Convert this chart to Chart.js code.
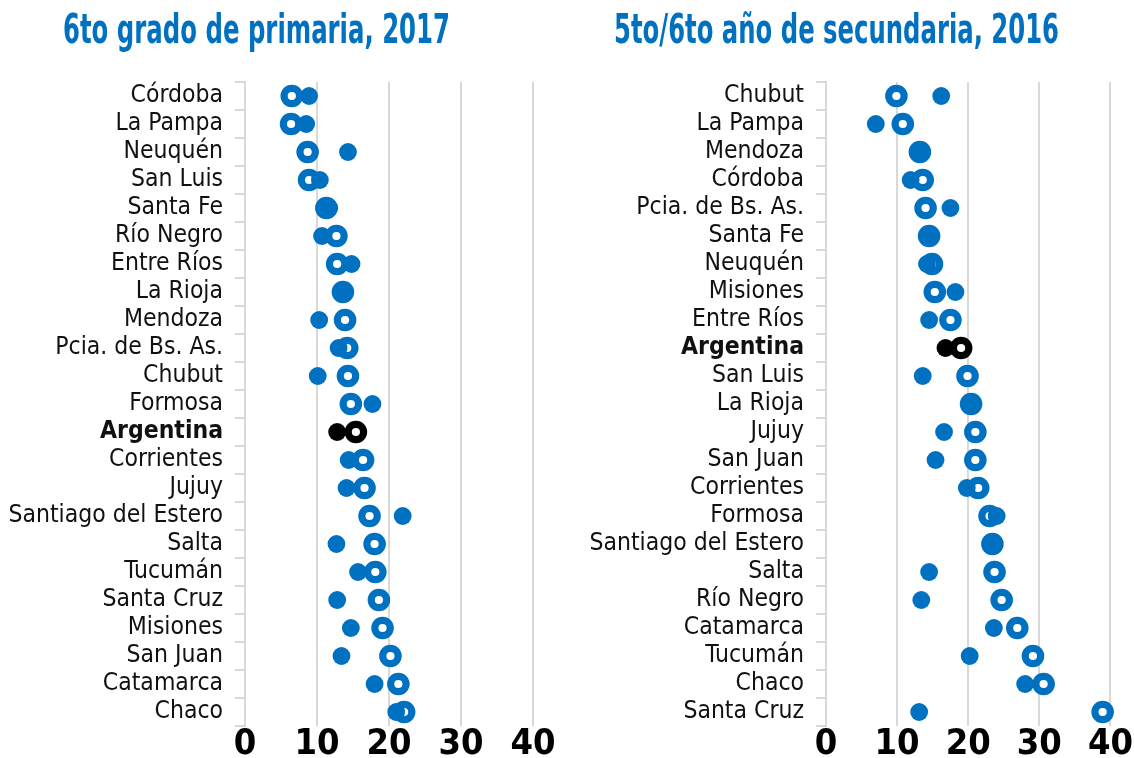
<!DOCTYPE html>
<html>
<head>
<meta charset="utf-8">
<script src="https://cdn.jsdelivr.net/npm/chart.js@4/dist/chart.umd.min.js"></script>
<style>
html,body{margin:0;padding:0;background:#fff;width:1134px;height:758px;overflow:hidden;}
.panel{position:absolute;top:0;width:567px;height:758px;}
#p1{left:0;} #p2{left:567px;}
.title{position:absolute;top:9px;white-space:nowrap;font-family:'Liberation Sans Narrow','DejaVu Sans Condensed',sans-serif;font-weight:bold;font-size:40px;line-height:40px;color:#0070C0;transform-origin:left top;}
</style>
</head>
<body>
<div class="panel" id="p1"><canvas id="c1"></canvas></div>
<div class="panel" id="p2"><canvas id="c2"></canvas></div>
<div class="title" id="t1">6to grado de primaria, 2017</div>
<div class="title" id="t2">5to/6to año de secundaria, 2016</div>
<script>
// ---- Data: 6to grado de primaria, 2017 ----
const primariaCategories = ['Córdoba','La Pampa','Neuquén','San Luis','Santa Fe','Río Negro','Entre Ríos','La Rioja','Mendoza','Pcia. de Bs. As.','Chubut','Formosa','Argentina','Corrientes','Jujuy','Santiago del Estero','Salta','Tucumán','Santa Cruz','Misiones','San Juan','Catamarca','Chaco'];
const primariaDots  = [8.9, 8.5, 14.3, 10.4, 11.7, 10.7, 14.8, 13.8, 10.3, 13.0, 10.1, 17.7, 12.8, 14.4, 14.1, 21.9, 12.7, 15.7, 12.8, 14.7, 13.4, 18.0, 21.0];
const primariaRings = [6.5, 6.4, 8.7, 8.9, 11.3, 12.7, 12.8, 13.6, 13.9, 14.2, 14.3, 14.7, 15.4, 16.4, 16.6, 17.3, 18.0, 18.1, 18.6, 19.1, 20.2, 21.3, 22.1];

// ---- Data: 5to/6to año de secundaria, 2016 ----
const secundariaCategories = ['Chubut','La Pampa','Mendoza','Córdoba','Pcia. de Bs. As.','Santa Fe','Neuquén','Misiones','Entre Ríos','Argentina','San Luis','La Rioja','Jujuy','San Juan','Corrientes','Formosa','Santiago del Estero','Salta','Río Negro','Catamarca','Tucumán','Chaco','Santa Cruz'];
const secundariaDots  = [16.2, 7.0, 13.2, 11.9, 17.5, 14.5, 14.2, 18.2, 14.5, 16.8, 13.6, 20.4, 16.6, 15.4, 19.8, 24.0, 23.4, 14.5, 13.4, 23.6, 20.2, 28.0, 13.1];
const secundariaRings = [9.9, 10.8, 13.2, 13.6, 14.0, 14.5, 14.9, 15.3, 17.5, 19.0, 19.9, 20.4, 21.0, 21.0, 21.4, 23.0, 23.4, 23.7, 24.7, 26.9, 29.1, 30.6, 38.9];

const xTicks = [0, 10, 20, 30, 40];

const BLUE = '#0070C0';
const GRID = '#d9d9d9';
const FONT = "'Liberation Sans Narrow','DejaVu Sans Condensed',sans-serif";

function makeChart(id, cats, dots, rings, yWidth, padRight) {
  const colors = cats.map(c => c === 'Argentina' ? '#000000' : BLUE);
  return new Chart(document.getElementById(id), {
    type: 'line',
    data: {
      labels: cats,
      datasets: [
        { label: 'A', data: dots, showLine: false, clip: false,
          pointRadius: 8.9, pointBorderWidth: 0,
          pointBackgroundColor: colors, pointBorderColor: colors },
        { label: 'B', data: rings, showLine: false, clip: false,
          pointRadius: 7.7, pointBorderWidth: 7.2,
          pointBackgroundColor: '#ffffff', pointBorderColor: colors }
      ]
    },
    options: {
      indexAxis: 'y',
      responsive: true,
      maintainAspectRatio: false,
      animation: false,
      events: [],
      layout: { padding: { top: 82, right: padRight, bottom: 0, left: 0 } },
      plugins: { legend: { display: false }, tooltip: { enabled: false }, title: { display: false } },
      scales: {
        x: {
          type: 'linear', min: 0, max: 40,
          afterBuildTicks: s => { s.ticks = xTicks.map(v => ({ value: v })); },
          ticks: { color: '#000', padding: 1, font: { family: FONT, size: 36, weight: 'bold', lineHeight: 1 } },
          grid: { color: GRID, lineWidth: 2, drawTicks: false },
          border: { display: false },
          afterFit: s => { s.height = 32; }
        },
        y: {
          type: 'category', offset: true,
          grid: { offset: true, drawOnChartArea: false, drawTicks: true, tickLength: 10, color: GRID, lineWidth: 2 },
          border: { display: true, color: GRID, width: 2 },
          ticks: {
            color: '#111', padding: 12, autoSkip: false,
            font: ctx => ({ family: FONT, size: 24.5, weight: (ctx.tick && ctx.tick.label === 'Argentina') ? 'bold' : 'normal' })
          },
          afterFit: s => { s.width = yWidth; }
        }
      }
    }
  });
}

makeChart('c1', primariaCategories, primariaDots, primariaRings, 245, 34);
makeChart('c2', secundariaCategories, secundariaDots, secundariaRings, 259, 20);

function placeTitle(id, left, right) {
  const el = document.getElementById(id);
  const w = el.getBoundingClientRect().width;
  const target = right - left;
  el.style.left = left + 'px';
  el.style.transform = 'scaleX(' + (target / w) + ')';
}
placeTitle('t1', 63, 450);
placeTitle('t2', 614, 1059);
</script>
</body>
</html>
